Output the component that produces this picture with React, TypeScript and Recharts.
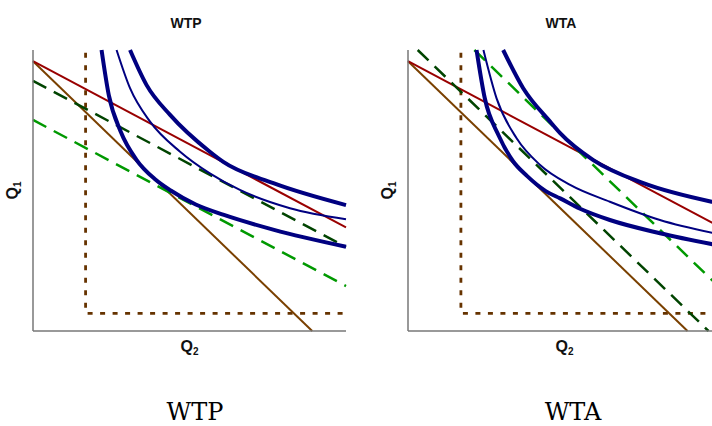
import { LineChart, Line, XAxis, YAxis, Label } from 'recharts';

// Each series is a list of [Q2, Q1] pairs
const wtpBudgetSteep = [[0, 9.6], [8.92, 0]];
const wtpBudgetFlat = [[0, 9.6], [10, 3.69]];
const wtpCompDark = [[0, 8.9], [10, 2.99]];
const wtpCompLight = [[0, 7.51], [10, 1.6]];
const wtpFloor = [[1.68, 9.9], [1.68, 0.63], [10, 0.63]];
const wtpCurveLow = [[2.19, 10], [2.42, 8.4], [2.8, 7.1], [3.3, 6.1], [3.9, 5.4], [4.4, 5.0], [5.2, 4.5], [6.1, 4.13], [7.7, 3.6], [10, 3.0]];
const wtpCurveMid = [[2.67, 10], [3.1, 8.64], [3.74, 7.45], [4.7, 6.38], [5.65, 5.61], [6.61, 5.02], [8.21, 4.37], [10, 3.98]];
const wtpCurveHigh = [[3.1, 10], [3.63, 8.75], [4.38, 7.69], [5.65, 6.38], [6.08, 6.02], [7.68, 5.26], [10, 4.48]];

const wtaBudgetSteep = [[0, 9.6], [8.93, 0]];
const wtaBudgetFlat = [[0, 9.6], [10, 3.69]];
const wtaCompDark = [[0.31, 10], [9.6, 0]];
const wtaCompLight = [[2.12, 10], [10, 1.5]];
const wtaFloor = [[1.69, 9.9], [1.69, 0.63], [10, 0.63]];
const wtaCurveLow = [[2.19, 10], [2.45, 8.3], [2.9, 6.95], [3.35, 6.05], [3.8, 5.52], [4.4, 4.98], [4.86, 4.72], [5.5, 4.35], [6.45, 3.95], [8.05, 3.48], [10, 3.03]];
const wtaCurveMid = [[2.41, 10], [2.83, 8.28], [3.47, 6.86], [4.22, 5.91], [5.18, 5.2], [6.45, 4.6], [8.05, 3.95], [10, 3.43]];
const wtaCurveHigh = [[3.04, 10], [3.68, 8.64], [4.54, 7.45], [4.86, 7.04], [5.92, 6.08], [7.52, 5.26], [9.7, 4.6], [10, 4.53]];

const panelTitles = ['WTP', 'WTA'];

const toPoints = (pairs: number[][]) => pairs.map(([x, y]) => ({ x, y }));

const NAVY = '#000080';
const AXIS = '#777777';
const LABEL_FONT = '"Liberation Sans", Arial, sans-serif';

const Q2Label = ({ viewBox }: any) => (
  <text
    x={viewBox.x + viewBox.width / 2}
    y={viewBox.y + 21}
    textAnchor="middle"
    fontFamily={LABEL_FONT}
    fontWeight="bold"
    fontSize={16}
    fill="#111"
  >
    Q<tspan fontSize={10} dy={3}>2</tspan>
  </text>
);

const Q1Label = ({ viewBox }: any) => {
  const cx = viewBox.x + 10;
  const cy = viewBox.y + viewBox.height / 2;
  return (
    <text
      x={cx}
      y={cy}
      transform={`rotate(-90, ${cx}, ${cy})`}
      textAnchor="middle"
      fontFamily={LABEL_FONT}
      fontWeight="bold"
      fontSize={16}
      fill="#111"
    >
      Q<tspan fontSize={10} dy={3}>1</tspan>
    </text>
  );
};

type PanelProps = {
  left: number;
  title: string;
  steep: number[][];
  flat: number[][];
  dark: number[][];
  light: number[][];
  floor: number[][];
  low: number[][];
  mid: number[][];
  high: number[][];
};

const Panel = ({ left, title, steep, flat, dark, light, floor, low, mid, high }: PanelProps) => (
  <div style={{ position: 'absolute', left, top: 0, width: 360, height: 360 }}>
    <div
      style={{
        position: 'absolute',
        left: 0,
        top: 16,
        width: 372,
        textAlign: 'center',
        fontFamily: LABEL_FONT,
        fontWeight: 'bold',
        fontSize: 14,
        lineHeight: '14px',
        color: '#111',
      }}
    >
      {title}
    </div>
    <LineChart width={360} height={360} margin={{ top: 50, right: 14, bottom: 4, left: 8 }}>
      <XAxis
        type="number"
        dataKey="x"
        domain={[0, 10]}
        tick={false}
        tickLine={false}
        height={25}
        axisLine={{ stroke: AXIS, strokeWidth: 1.5 }}
      >
        <Label content={Q2Label} />
      </XAxis>
      <YAxis
        type="number"
        domain={[0, 10]}
        tick={false}
        tickLine={false}
        width={25}
        axisLine={{ stroke: AXIS, strokeWidth: 1.5 }}
      >
        <Label content={Q1Label} />
      </YAxis>
      <Line data={toPoints(floor)} dataKey="y" type="linear" stroke="#663300" strokeWidth={2.8} strokeDasharray="5 7.5" dot={false} activeDot={false} isAnimationActive={false} />
      <Line data={toPoints(steep)} dataKey="y" type="linear" stroke="#7a4000" strokeWidth={2} dot={false} activeDot={false} isAnimationActive={false} />
      <Line data={toPoints(flat)} dataKey="y" type="linear" stroke="#990000" strokeWidth={2} dot={false} activeDot={false} isAnimationActive={false} />
      <Line data={toPoints(dark)} dataKey="y" type="linear" stroke="#004400" strokeWidth={2.5} strokeDasharray="15 8.5" dot={false} activeDot={false} isAnimationActive={false} />
      <Line data={toPoints(light)} dataKey="y" type="linear" stroke="#009900" strokeWidth={2.5} strokeDasharray="15 8.5" dot={false} activeDot={false} isAnimationActive={false} />
      <Line data={toPoints(low)} dataKey="y" type="monotone" stroke={NAVY} strokeWidth={4} dot={false} activeDot={false} isAnimationActive={false} />
      <Line data={toPoints(mid)} dataKey="y" type="monotone" stroke={NAVY} strokeWidth={2} dot={false} activeDot={false} isAnimationActive={false} />
      <Line data={toPoints(high)} dataKey="y" type="monotone" stroke={NAVY} strokeWidth={4} dot={false} activeDot={false} isAnimationActive={false} />
    </LineChart>
  </div>
);

const captionStyle = (center: number): React.CSSProperties => ({
  position: 'absolute',
  left: center - 100,
  top: 398,
  width: 200,
  textAlign: 'center',
  fontFamily: '"DejaVu Serif", serif',
  fontSize: 24,
  lineHeight: '28px',
  color: '#000',
});

export default function App() {
  return (
    <div style={{ position: 'absolute', left: 0, top: 0, width: 712, height: 426, overflow: 'hidden', background: '#fff' }}>
      <Panel
        left={0}
        title={panelTitles[0]}
        steep={wtpBudgetSteep}
        flat={wtpBudgetFlat}
        dark={wtpCompDark}
        light={wtpCompLight}
        floor={wtpFloor}
        low={wtpCurveLow}
        mid={wtpCurveMid}
        high={wtpCurveHigh}
      />
      <Panel
        left={375}
        title={panelTitles[1]}
        steep={wtaBudgetSteep}
        flat={wtaBudgetFlat}
        dark={wtaCompDark}
        light={wtaCompLight}
        floor={wtaFloor}
        low={wtaCurveLow}
        mid={wtaCurveMid}
        high={wtaCurveHigh}
      />
      <div style={captionStyle(195)}>{panelTitles[0]}</div>
      <div style={captionStyle(573)}>{panelTitles[1]}</div>
    </div>
  );
}
